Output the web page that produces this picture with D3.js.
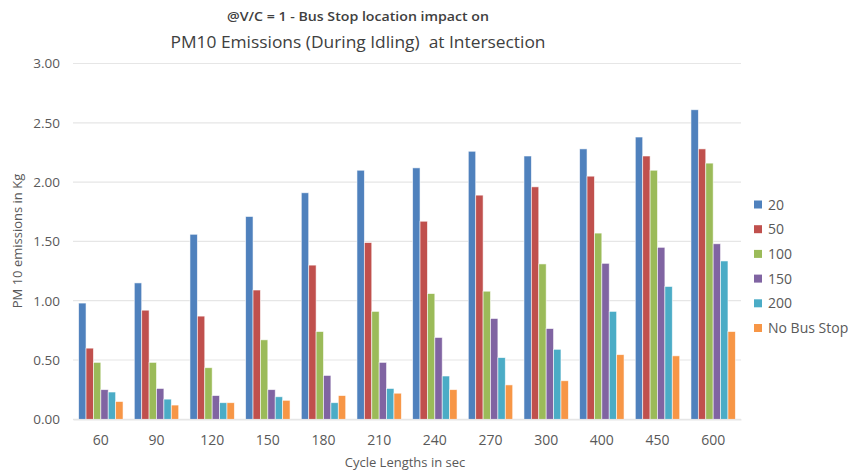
<!DOCTYPE html>
<html><head><meta charset="utf-8">
<script src="https://cdn.jsdelivr.net/npm/d3@7/dist/d3.min.js"></script>
<style>body{margin:0;background:#fff}svg{display:block}text{font-family:"Open Sans","Noto Sans",sans-serif;fill:#595959}</style>
</head><body><svg id="c" width="851" height="471"></svg>
<script>
const categories = ["60","90","120","150","180","210","240","270","300","400","450","600"];
const seriesNames = ["20","50","100","150","200","No Bus Stop"];
const s20  = [0.98,1.15,1.56,1.71,1.91,2.10,2.12,2.26,2.22,2.28,2.38,2.61];
const s50  = [0.60,0.92,0.87,1.09,1.30,1.49,1.67,1.89,1.96,2.05,2.22,2.28];
const s100 = [0.48,0.48,0.435,0.67,0.74,0.91,1.06,1.08,1.31,1.57,2.10,2.16];
const s150 = [0.25,0.26,0.20,0.25,0.37,0.48,0.69,0.85,0.765,1.315,1.45,1.48];
const s200 = [0.23,0.17,0.14,0.19,0.14,0.26,0.365,0.52,0.59,0.91,1.12,1.335];
const sNBS = [0.15,0.12,0.14,0.16,0.20,0.22,0.25,0.29,0.325,0.545,0.535,0.74];
const yTicks = [0,0.5,1,1.5,2,2.5,3];
const colors = ["#4F81BD","#C0504D","#9BBB59","#8064A2","#4BACC6","#F79646"];
const allSeries = [s20,s50,s100,s150,s200,sNBS];

const svg = d3.select("#c");
const L=73,R=741,T=63.5,B=419.3;
const xb = d3.scaleBand().domain(categories).range([L,R]);
const y = d3.scaleLinear().domain([0,3]).range([B,T]);

// gridlines
svg.append("g").selectAll("line").data(yTicks).join("line")
  .attr("x1",L).attr("x2",R).attr("y1",d=>y(d)).attr("y2",d=>y(d))
  .attr("stroke","#e6e6e6").attr("stroke-width",1.2);

// y labels
const yAxis = d3.axisLeft(y).tickValues(yTicks).tickFormat(d3.format(".2f")).tickSize(0).tickPadding(0);
const ya = svg.append("g").attr("transform",`translate(60,0)`).call(yAxis);
ya.select(".domain").remove();
ya.selectAll("text").attr("font-size",13.5).attr("fill","#595959").style("font-family","'Open Sans',sans-serif");

// bars
const groupW = 44.4;
const xs = d3.scaleBand().domain(seriesNames).range([0,groupW]);
const grp = svg.append("g");
categories.forEach((c,i)=>{
  const gx = xb(c)+xb.bandwidth()/2-groupW/2;
  allSeries.forEach((s,j)=>{
    grp.append("rect")
      .attr("x",gx+xs(seriesNames[j]))
      .attr("y",y(s[i]))
      .attr("width",xs.bandwidth())
      .attr("height",B-y(s[i]))
      .attr("fill",colors[j])
      .attr("stroke","#fff").attr("stroke-opacity",0.7).attr("stroke-width",0.8);
  });
});

// x axis labels
const xAxis = d3.axisBottom(xb).tickSize(0).tickPadding(0);
const xa = svg.append("g").attr("transform",`translate(0,${B})`).call(xAxis);
xa.select(".domain").attr("stroke","#e6e6e6").attr("stroke-width",1.2);
xa.selectAll("text").attr("dy",0).attr("y",26).attr("font-size",14).attr("fill","#595959").style("font-family","'Open Sans',sans-serif");

// axis titles
svg.append("text").attr("x",405).attr("y",467).attr("text-anchor","middle").attr("font-size",13).text("Cycle Lengths in sec");
svg.append("text").attr("transform","translate(22,241) rotate(-90)").attr("text-anchor","middle").attr("font-size",13).text("PM 10 emissions in Kg");

// title
svg.append("text").attr("x",358).attr("y",21).attr("text-anchor","middle").attr("font-size",12.5).attr("font-weight","600")
  .attr("fill","#404040").style("fill","#404040")
  .attr("textLength",262).attr("lengthAdjust","spacingAndGlyphs").text("@V/C = 1 - Bus Stop location impact on");
svg.append("text").attr("x",358).attr("y",48).attr("text-anchor","middle").attr("font-size",17).attr("font-weight","500")
  .style("fill","#404040").style("white-space","pre")
  .attr("textLength",375).attr("lengthAdjust","spacingAndGlyphs").text("PM10 Emissions (During Idling)\u00A0 at Intersection");

// legend
const lg = svg.append("g");
seriesNames.forEach((n,j)=>{
  const cy = 204.5 + j*24.7;
  lg.append("rect").attr("x",754).attr("y",cy-4).attr("width",8).attr("height",8).attr("fill",colors[j]);
  lg.append("text").attr("x",768).attr("y",cy+5).attr("font-size",14).text(n);
});
</script></body></html>
